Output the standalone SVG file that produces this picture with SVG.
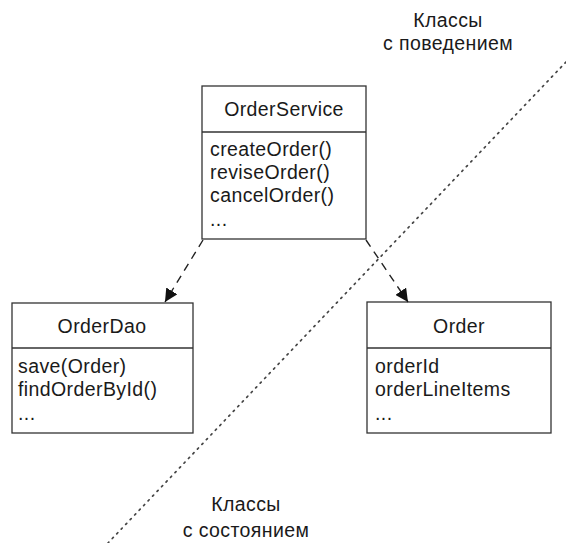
<svg xmlns="http://www.w3.org/2000/svg" width="566" height="543" viewBox="0 0 566 543">
<defs>
<style>
text{font-family:"Liberation Sans",Arial,sans-serif;font-size:19.5px;fill:#1a1a1a;letter-spacing:0.4px}
.mid{text-anchor:middle}
.box{fill:#fff;stroke:#333;stroke-width:1.3}
.div{stroke:#333;stroke-width:1.3}
.dep{fill:none;stroke:#222;stroke-width:1.4;stroke-dasharray:8 6}
.sep{fill:none;stroke:#444;stroke-width:1.7;stroke-dasharray:1.5 5;stroke-linecap:round}
</style>
<marker id="ah" viewBox="0 0 10 10" refX="10" refY="5" markerWidth="13" markerHeight="13" markerUnits="userSpaceOnUse" orient="auto">
<path d="M0,0 L10,5 L0,10 z" fill="#111"/>
</marker>
</defs>
<g id="separator">
<line class="sep" x1="566" y1="62" x2="108" y2="543"/>
</g>
<g id="label-behavior">
<text class="mid" x="448" y="27">Классы</text>
<text class="mid" x="448" y="50">с поведением</text>
</g>
<g id="label-state">
<text class="mid" x="246" y="511">Классы</text>
<text class="mid" x="246" y="537">с состоянием</text>
</g>
<g id="OrderService">
<rect class="box" x="202" y="86" width="164" height="153"/>
<line class="div" x1="202" y1="132" x2="366" y2="132"/>
<text class="mid" x="284" y="116">OrderService</text>
<text x="210" y="156">createOrder()</text>
<text x="210" y="179">reviseOrder()</text>
<text x="210" y="202">cancelOrder()</text>
<text x="210" y="226">...</text>
</g>
<g id="OrderDao">
<rect class="box" x="12" y="303" width="181" height="130"/>
<line class="div" x1="12" y1="348" x2="193" y2="348"/>
<text class="mid" x="102" y="333">OrderDao</text>
<text x="18" y="373">save(Order)</text>
<text x="18" y="396">findOrderById()</text>
<text x="18" y="420">...</text>
</g>
<g id="Order">
<rect class="box" x="367" y="302" width="184" height="131"/>
<line class="div" x1="367" y1="348" x2="551" y2="348"/>
<text class="mid" x="459" y="333">Order</text>
<text x="375" y="373">orderId</text>
<text x="375" y="396">orderLineItems</text>
<text x="375" y="420">...</text>
</g>
<g id="connectors">
<line class="dep" x1="203" y1="240" x2="165" y2="302" marker-end="url(#ah)"/>
<line class="dep" x1="366" y1="240" x2="408" y2="302" marker-end="url(#ah)"/>
</g>
</svg>
